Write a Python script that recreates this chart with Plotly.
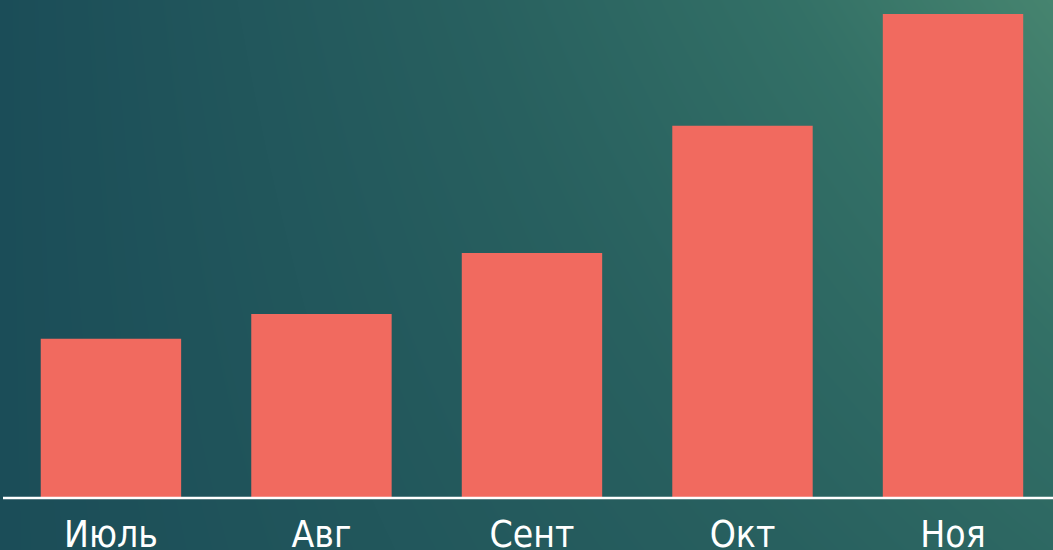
import numpy as np
import plotly.graph_objects as go

# Data
categories = ["Июль", "Авг", "Сент", "Окт", "Ноя"]
values = [32.9, 38.0, 50.6, 76.9, 100.0]

W, H = 1053, 550
bottom_px = 52  # space under axis line

# background gradient (style only)
nx, ny = 60, 32
u = np.linspace(0, 1, nx)[None, :]
v = np.linspace(0, 1, ny)[:, None]  # 0 = top
z_bg = u * (0.6 + 0.4 * (1 - v))

fig = go.Figure()

fig.add_trace(go.Heatmap(
    z=z_bg, x=np.linspace(0, 1, nx), y=np.linspace(1, 0, ny),
    colorscale=[[0, "#1b4d58"], [0.45, "#28605f"], [0.75, "#337066"], [1, "#46846f"]],
    zsmooth="best", showscale=False, hoverinfo="skip",
    xaxis="x", yaxis="y",
))

fig.add_trace(go.Bar(
    x=categories, y=values, marker=dict(color="#f16a5f", line=dict(width=0)),
    xaxis="x2", yaxis="y2", hoverinfo="skip",
))

fig.update_layout(
    width=W, height=H,
    margin=dict(l=0, r=0, t=0, b=0, autoexpand=False),
    paper_bgcolor="#275d60",
    plot_bgcolor="rgba(0,0,0,0)",
    showlegend=False,
    bargap=0.333,
    xaxis=dict(domain=[0, 1], range=[0, 1], visible=False, fixedrange=True, automargin=False),
    yaxis=dict(domain=[0, 1], range=[0, 1], visible=False, fixedrange=True, automargin=False),
    xaxis2=dict(domain=[0, 1], range=[-0.527, 4.475], anchor="y2", automargin=False,
                showgrid=False, zeroline=False, showline=False, ticks="",
                tickfont=dict(family="DejaVu Sans Condensed, Noto Sans", size=37, color="white"),
                ticklabelstandoff=11, fixedrange=True),
    yaxis2=dict(domain=[bottom_px / H, 1], range=[0, 498 / 4.84], anchor="x2", automargin=False,
                visible=False, showgrid=False, zeroline=False, fixedrange=True),
    shapes=[dict(type="line", xref="paper", yref="paper",
                 x0=3 / W, x1=1, y0=bottom_px / H, y1=bottom_px / H,
                 line=dict(color="white", width=2.5), layer="above")],
)

fig.write_html("out.html", config={"displayModeBar": False},
               post_script="document.body.style.margin='0';document.body.style.overflow='hidden';")
